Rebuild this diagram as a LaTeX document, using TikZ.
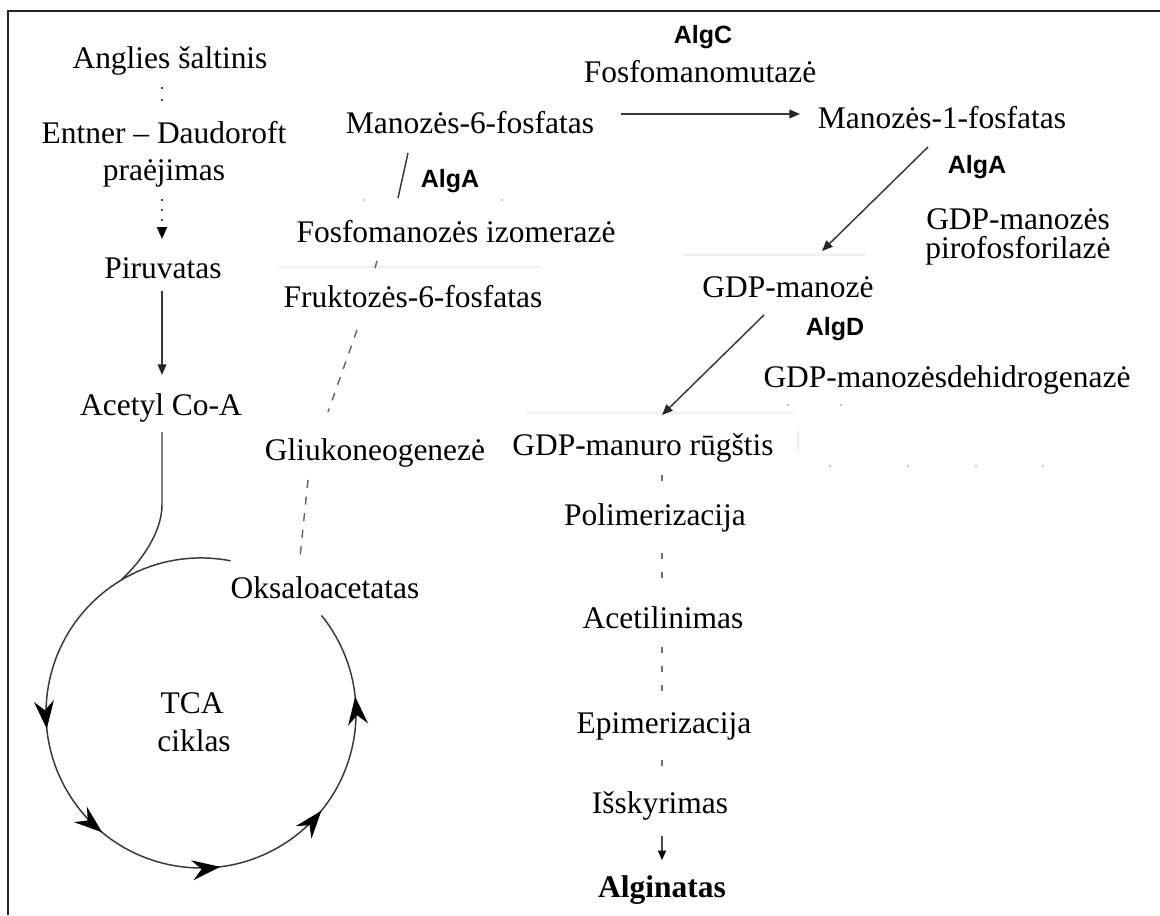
\documentclass[tikz,border=0pt]{standalone}
\usepackage{fontspec}
\setmainfont{Liberation Serif}
\newfontfamily\enzfont{Liberation Sans}
\usetikzlibrary{arrows.meta,decorations.markings,calc}
\tikzset{
  lbl/.style={font={\fontsize{23.6pt}{28pt}\selectfont}, inner sep=0pt, anchor=base},
  lblb/.style={font={\fontsize{23.6pt}{28pt}\selectfont\bfseries}, inner sep=0pt, anchor=base},
  enz/.style={font={\enzfont\fontsize{18.75pt}{22pt}\selectfont\bfseries}, inner sep=0pt, anchor=base},
  ln/.style={draw=black!78, line width=1.1pt},
  tipa/.style={-{Triangle[length=8pt,width=6.5pt,color=black!85]}},
  dotc/.style={draw=black!70, line width=1.5pt, dash pattern=on 1.5pt off 7.5pt},
  gdash/.style={draw=black!60, line width=1.1pt, dash pattern=on 6pt off 6.5pt},
  cdash/.style={draw=black!55, line width=1.6pt, dash pattern=on 4.5pt off 9.75pt},
  faint/.style={draw=black!6, line width=0.8pt},
  fdot/.style={fill=black!30, draw=none},
  ctip/.style={decoration={markings,
     mark=at position 0.334 with {\arrow{Stealth[length=21pt,width=15pt,inset=7pt,color=black]}},
     mark=at position 0.473 with {\arrow{Stealth[length=21pt,width=15pt,inset=7pt,color=black]}},
     mark=at position 0.619 with {\arrow{Stealth[length=21pt,width=15pt,inset=7pt,color=black]}},
     mark=at position 0.756 with {\arrow{Stealth[length=21pt,width=15pt,inset=7pt,color=black]}},
     mark=at position 0.897 with {\arrow{Stealth[length=21pt,width=15pt,inset=7pt,color=black]}}},
     postaction={decorate}}
}
\begin{document}
\begin{tikzpicture}[x=0.75pt,y=-0.75pt]
\useasboundingbox (0,0) rectangle (1160,915);
\fill[white] (0,0) rectangle (1160,915);
% frame
\draw[line width=2pt, black!85] (8,915) -- (8,11) -- (1160,11);

% faint artefacts
\draw[faint] (277,267) -- (540,267);
\draw[faint] (683,255) -- (866,255);
\draw[faint] (527,413) -- (795,413);
\draw[faint] (798,430) -- (798,452);
\foreach \p in {(364,200),(502,200),(788,405),(841,405),(830,466),(908,466),(976,466),(1043,466)}
  \fill[fdot] \p circle[radius=1.2];

% left column
\node[lbl] (angl) at (170,68) {Anglies šaltinis};
\node[lbl] (entn) at (164,143) {Entner – Daudoroft};
\node[lbl] (prae) at (164,180) {praėjimas};
\node[lbl] (piru) at (163,278) {Piruvatas};
\node[lbl] (acet) at (161,415) {Acetyl Co-A};

% middle
\node[lbl] (man6) at (470,133) {Manozės-6-fosfatas};
\node[enz] (alga1) at (450,187) {AlgA};
\node[lbl] (fmi) at (456,242) {Fosfomanozės izomerazė};
\node[lbl] (fru) at (413,307) {Fruktozės-6-fosfatas};
\node[lbl] (gli) at (375,460) {Gliukoneogenezė};
\node[lbl] (oks) at (325,598) {Oksaloacetatas};
\node[lbl] (tca) at (192,713) {TCA};
\node[lbl] (cik) at (194,751) {ciklas};

% right
\node[enz] (algc) at (703,43) {AlgC};
\node[lbl] (fmm) at (700,82) {Fosfomanomutazė};
\node[lbl] (man1) at (942,128) {Manozės-1-fosfatas};
\node[enz] (alga2) at (977,173) {AlgA};
\node[lbl] (gdpms) at (1018,229) {GDP-manozės};
\node[lbl] (piro) at (1018,258) {pirofosforilazė};
\node[lbl] (gdpm) at (788,297) {GDP-manozė};
\node[enz] (algd) at (835,335) {AlgD};
\node[lbl] (gdpdh) at (947,387) {GDP-manozėsdehidrogenazė};
\node[lbl] (gdpmr) at (643,455) {GDP-manuro rūgštis};
\node[lbl] (pol) at (655,525) {Polimerizacija};
\node[lbl] (ace) at (663,628) {Acetilinimas};
\node[lbl] (epi) at (664,733) {Epimerizacija};
\node[lbl] (iss) at (660,813) {Išskyrimas};
\node[lblb] (alg) at (662,897) {Alginatas};

% left column connectors
\draw[dotc] ($(angl.base)+(-8,19)$) -- ($(entn.base)+(-2,-41)$);
\draw[dotc, dash pattern=on 1.5pt off 6pt, -{Triangle[length=9pt,width=7.5pt,color=black]}] ($(prae.base)+(-2,19)$) -- ($(piru.base)+(-1,-39)$);
\draw[ln, tipa] ($(piru.base)+(-1,13)$) -- ($(acet.base)+(1,-40)$);
\coordinate (join) at (121,580);
\draw[ln] ($(acet.base)+(1,17)$) -- (162,505) .. controls (162,532) and (141,562) .. (join);

% TCA cycle
\draw[ln, ctip] (230.6,560.8) arc[start angle=-79, end angle=-399, radius=155];

% gluconeogenesis branch
\draw[gdash] ($(gli.base)+(-67,20)$) -- ($(oks.base)+(-25,-41)$);
\draw[gdash] ($(fru.base)+(-56,23)$) -- ($(gli.base)+(-47,-48)$);
\draw[draw=black!60, line width=1.1pt] ($(fmi.base)+(-79,19)$) -- ($(fru.base)+(-38,-39)$);
\draw[ln] ($(man6.base)+(-62,20)$) -- ($(fmi.base)+(-58,-44)$);

% alginate pathway
\draw[ln, tipa] ($(man6.base)+(151,-19)$) -- ($(man1.base)+(-142,-14)$);
\draw[ln, tipa] ($(man1.base)+(-14,19)$) -- ($(gdpm.base)+(34,-46)$);
\draw[ln, tipa] ($(gdpm.base)+(-24,18)$) -- ($(gdpmr.base)+(19,-40)$);
\draw[cdash] ($(gdpmr.base)+(19,20)$) -- ($(pol.base)+(7,-44)$);
\draw[cdash] ($(pol.base)+(7,28)$) -- ($(ace.base)+(-1,-50)$);
\draw[cdash] ($(ace.base)+(-1,19)$) -- ($(epi.base)+(-2,-42)$);
\draw[cdash] ($(epi.base)+(-2,27)$) -- ($(iss.base)+(2,-47)$);
\draw[draw=black!70, line width=1.1pt, -{Triangle[length=7pt,width=6pt,color=black]}] ($(iss.base)+(2,23)$) -- ($(alg.base)+(0,-37)$);
\end{tikzpicture}
\end{document}
